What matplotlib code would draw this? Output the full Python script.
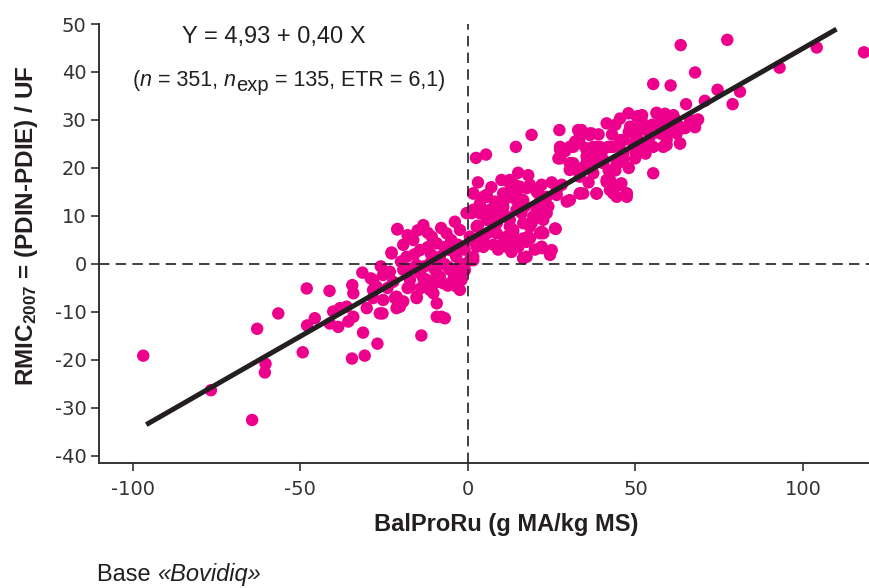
import matplotlib
matplotlib.use("Agg")
import matplotlib.pyplot as plt

W, H = 869, 588

# ---- data ----
xs = [
 -96.9, -76.7, -64.4, -62.9, -56.6, -60.4, -60.6, -49.3, -48.1, -41.3, -48.0, -45.7, -34.6, -30.8, -31.3, -27.0, -13.9, -25.5,
 -40.2, -38.2, -36.2, -41.2, -38.7, -35.7, -34.2, -30.2,
 -34.5, -31.5, -29.0, -34.2, -27.3, -28.3, -24.5, -21.8, -21.3, -19.3, -21.0, -22.8,
 -21.1, -13.3, -16.3, -19.3, -22.8, -18.3, -14.3, -10.8, -9.3, -6.4, -3.9, -2.4, -5.4, -8.4, -11.3, -15.3, -19.3, -23.3,
 -25.3, -28.3, -22.3, -17.3, -13.3, -9.3, -5.4, -2.4, 0.6, 2.6, 4.6, 5.6, 6.6, 3.6, 5.6, 1.6, 10.5, 12.5, 8.6, 12.5,
 10.5, 14.5, 16.5, 17.5, -4.4, -7.4, -2.4, -9.3, -15.3, -21.3, -25.3, -26.3, -20.3, -11.3, -7.9, -28.3,
 1.1, 4.6, 1.6, -0.9, -3.4, -1.9, -6.9, -9.3, -10.3, -15.3, -17.3, -14.3, -12.3, -8.4, -5.9, -10.3, 16.5, 21.5, 24.5,
 26.0, 17.5, 11.0, 13.5, 19.5, 10.5, 14.5, 12.5,
 27.5, 30.4, 33.4, 36.4, 35.4, 38.4, 42.4, 45.4, 30.4, 32.4, 27.5, 35.4, 40.4, 44.4, 46.4, 41.4, 45.4, 38.4, 42.4, 47.4,
 12.5, 15.5, 18.5, 20.5, 10.5, 12.5, 16.5, 23.5, 26.5, 30.4, 33.4, 4.6, 1.6, 5.6, 9.6, 14.5, 20.5, 23.5, 19.5, 16.5,
 12.5, 7.6, 2.6, 0.6, 4.6, 11.6, 13.5, 18.5, 22.0, 22.0, 25.0, 18.0, 7.6,
 63.5, 77.4, 104.1, 118.2, 93.0, 67.8, 55.3, 60.5, 74.5, 81.2, 79.0, 70.7, 65.1, 68.7, 67.8, 63.3, 55.3, 55.3, 59.3,
 58.3, 56.3, 51.8, 47.9, 45.4, 50.4, 53.3, 57.3, 61.3, 49.9, 45.7, 41.4, 36.9, 32.9, 27.3, 19.0, 14.3, 5.4, 2.4, 27.0,
 27.5, 31.4, 35.4, 39.4, 41.9, 45.4, 46.4, 40.4, 37.4, 31.4, 30.4, 33.4, 37.4, 41.4, 45.8, 47.4, 44.4, 38.4, 33.4, 29.5,
 26.5, 21.0, 17.5, 12.5, 12.5, 14.5, 10.5, 5.6, 1.6, -0.4, 3.6, 7.6, 11.6, 16.0, 19.0, 22.5, 22.5, 26.2, 18.5, 22.0,
 24.5, 16.5, 11.6, 4.6, 1.6, 0.6, 8.6, 61.3,
 48.4, 51.3, 53.3, 50.4, 54.3, 57.3, 60.3, 63.3, 66.3, 68.3, 64.8, 62.3, 59.3, 63.3, 58.3, 52.3, 49.4, 46.4, 43.4, 40.4,
 37.4, 36.4, 33.9, 33.4, 35.4, 39.4, 45.4, 42.4, 45.4, 47.4, 43.4, 38.4, 34.4, 50.8, 56.3, 58.8,
 -18.0, -15.0, -12.0, -8.0, -5.0, -3.0, -1.0, -7.0, -12.0, -16.0, -20.0, -17.0, -13.0, -10.0, -7.0, -3.5, -1.0, -4.0,
 -6.0, -10.0, -14.0, -18.0, -24.0, -26.0, -11.0,
 3.0, 6.0, 9.0, 13.0, 15.0, 20.0, 8.0, 11.0, 14.0, 17.0, 21.0, 24.0, 18.0, 15.0, 10.0, 7.0, 3.0, 25.0, 28.0, 22.0, 3.5, 9.0,
 34.0, 37.0, 43.0, 48.0, 52.0, 55.0, 59.0, 62.0, 44.0, 39.0, 32.0, 29.0, 53.0, 50.0, 42.0, 36.0, 44.0, 48.0,
]
ys = [
 -19.1, -26.3, -32.5, -13.5, -10.3, -20.8, -22.6, -18.4, -5.1, -5.6, -12.8, -11.3, -19.7, -19.1, -14.3, -16.6, -14.9, -10.3,
 -9.9, -9.2, -8.9, -12.4, -13.1, -12.0, -11.0, -9.2,
 -4.4, -1.8, -3.0, -6.1, -4.7, -7.1, -1.8, -7.1, -9.2, -7.8, 7.3, 2.4,
 7.2, 8.1, 5.0, 4.0, 2.2, 1.5, 2.9, 5.7, 4.3, 6.4, 8.8, 7.1, 2.9, 1.5, 0.1, -0.2, -1.2, -1.6,
 -2.3, -3.3, -3.7, -3.3, -3.0, -1.9, -1.2, -0.6, 0.8, 3.6, 5.0, 9.2, 11.3, 12.6, 14.4, 14.7, 12.6, 14.0, 8.5, 7.8,
 4.3, 5.0, 5.3, 1.5, -3.3, -4.0, -5.4, -8.2, -6.8, -6.8, -7.5, -10.3, -8.9, -5.4, -11.0, -5.4,
 10.6, 3.6, 0.8, -1.3, -4.7, -3.3, -11.3, -11.0, -6.1, -7.1, -4.7, -1.9, -3.3, -2.6, -0.6, 0.8, 1.2, 6.4, 1.9,
 7.4, 4.6, 4.0, 6.7, 9.9, 11.9, 14.7, 16.8,
 23.8, 24.4, 26.5, 27.2, 23.8, 24.4, 24.4, 25.1, 21.0, 19.6, 22.0, 21.0, 21.7, 21.0, 21.7, 17.5, 16.5, 14.7, 15.4, 14.0,
 17.5, 16.1, 16.5, 15.1, 14.7, 14.0, 13.3, 14.0, 14.4, 13.3, 14.7, 14.0, 11.3, 10.9, 11.6, 11.3, 11.3, 10.6, 9.2, 8.5,
 9.2, 8.5, 7.8, 5.0, 4.3, 5.7, 7.1, 7.8, 6.7, 3.6, 2.9, 5.7, 4.0,
 45.6, 46.7, 45.1, 44.1, 40.9, 39.9, 37.5, 37.2, 36.3, 35.9, 33.3, 34.0, 33.3, 30.1, 28.5, 25.1, 18.9, 24.4, 24.8,
 31.0, 31.4, 30.0, 31.4, 30.3, 30.7, 28.6, 29.3, 28.6, 22.0, 21.3, 29.3, 27.2, 27.9, 27.9, 26.9, 24.4, 22.8, 22.1, 22.0,
 24.4, 24.4, 24.1, 24.4, 24.4, 25.8, 23.1, 21.0, 21.7, 21.0, 19.6, 18.2, 18.9, 17.1, 16.8, 14.7, 14.0, 14.7, 14.7, 13.0,
 15.4, 14.7, 15.8, 17.1, 15.1, 13.3, 11.9, 14.0, 14.7, 10.6, 10.6, 9.9, 9.9, 10.6, 8.5, 9.2, 6.4, 7.3, 5.3, 3.3,
 2.2, 1.2, 3.6, 3.6, 1.5, 5.7, 6.4, 31.0,
 28.6, 28.6, 27.9, 26.5, 26.5, 27.2, 27.9, 28.6, 30.0, 30.0, 28.3, 27.2, 25.8, 25.1, 24.4, 25.1, 25.1, 25.8, 24.4, 23.8,
 24.4, 26.9, 27.9, 25.1, 22.4, 22.4, 21.7, 17.5, 16.5, 14.7, 14.7, 14.7, 14.7, 30.8, 31.5, 31.3,
 6.0, 7.0, 6.5, 7.5, 5.0, 4.0, 3.0, 3.5, 3.5, 2.0, 0.5, -1.0, -0.5, -1.0, 0.0, 1.5, 0.0, -2.0,
 -4.5, -4.0, -5.0, -5.0, -5.0, -0.5, 2.0,
 8.0, 6.5, 3.0, 2.5, 3.5, 3.0, 13.0, 14.5, 16.5, 12.0, 12.5, 12.0, 18.5, 19.0, 17.5, 16.0, 17.0, 17.0, 16.5, 16.5, 5.5, 9.5,
 20.0, 23.0, 27.0, 27.5, 31.0, 29.0, 29.5, 30.0, 29.0, 27.0, 25.5, 23.5, 23.0, 23.5, 19.5, 17.0, 19.5, 20.0,
]
intercept = 4.93
slope = 0.40
fit_x = [-96.0, 110.0]
x_ticks = [-100, -50, 0, 50, 100]
y_ticks = [-40, -30, -20, -10, 0, 10, 20, 30, 40, 50]

equation = "Y = 4,93 + 0,40 X"
x_label = "BalProRu (g MA/kg MS)"
source_pieces = ["Base ", "«Bovidiq»"]

MAGENTA = "#EC008C"
DARK = "#231F20"

plt.rcParams["font.family"] = ["Liberation Sans", "DejaVu Sans"]
plt.rcParams["mathtext.fontset"] = "custom"
plt.rcParams["mathtext.rm"] = "Liberation Sans"
plt.rcParams["mathtext.it"] = "Liberation Sans:italic"
plt.rcParams["mathtext.bf"] = "Liberation Sans:bold"
plt.rcParams["lines.scale_dashes"] = False
plt.rcParams["axes.unicode_minus"] = False

fig = plt.figure(figsize=(W / 100, H / 100), dpi=100)
ax_left, ax_right = 99, 869
ax_top, ax_bottom = 24, 462.7
ax = fig.add_axes([ax_left / W, 1 - ax_bottom / H, (ax_right - ax_left) / W, (ax_bottom - ax_top) / H])

ax.scatter(xs, ys, s=80, color=MAGENTA, edgecolors="none", zorder=2, clip_on=False)
ax.axhline(0, color=DARK, lw=1.2, ls=(0, (7.5, 4.5)), zorder=3)
ax.axvline(0, color=DARK, lw=1.2, ls=(0, (7.5, 4.5)), zorder=3)
fy = [intercept + slope * v for v in fit_x]
ax.plot(fit_x, fy, color=DARK, lw=3.6, solid_capstyle="butt", zorder=4)

ax.set_xlim(-110.1, 119.7)
ax.set_ylim(-41.4, 50)
ax.set_xticks(x_ticks)
ax.set_yticks(y_ticks)
for s in ["top", "right"]:
    ax.spines[s].set_visible(False)
for s in ["left", "bottom"]:
    ax.spines[s].set_color("#333333")
    ax.spines[s].set_linewidth(1.4)
ax.tick_params(direction="out", length=5.5, width=1.2, color="#333333", pad=3.5,
               labelsize=14, labelcolor="#333333")
ax.tick_params(axis="x", pad=7)
for lab in ax.get_xticklabels() + ax.get_yticklabels():
    lab.set_family("DejaVu Sans")

# axis labels
fig.text(506 / W, 1 - 525 / H, x_label, ha="center", va="center", fontsize=17,
         fontweight="bold", color="#231F20")
fig.text(27 / W, 1 - 225.5 / H, r"RMIC$_{\mathbf{2007}}$ = (PDIN-PDIE) / UF", rotation=90,
         ha="center", va="center", fontsize=17.5, fontweight="bold", color="#231F20")

# annotations
fig.text(274 / W, 1 - 43 / H, equation, ha="center", va="baseline", fontsize=17, color="#231F20")

renderer = fig.canvas.get_renderer()

def seq_text(x0, y0, pieces):
    x = x0
    for s, kw, dy in pieces:
        t = fig.text(x / W, 1 - (y0 + dy) / H, s, ha="left", va="baseline", color="#231F20", **kw)
        bb = t.get_window_extent(renderer)
        x += bb.width

seq_text(133, 86, [
    ("(", dict(fontsize=15.5), 0),
    ("n", dict(fontsize=15.5, style="italic"), 0),
    (" = 351, ", dict(fontsize=15.5), 0),
    ("n", dict(fontsize=15.5, style="italic"), 0),
    ("exp", dict(fontsize=14.5), 5),
    (" = 135, ETR = 6,1)", dict(fontsize=15.5), 0),
])

seq_text(97, 581, [
    (source_pieces[0], dict(fontsize=17), 0),
    (source_pieces[1], dict(fontsize=17, style="italic"), 0),
])

fig.savefig("out.png", dpi=100)
